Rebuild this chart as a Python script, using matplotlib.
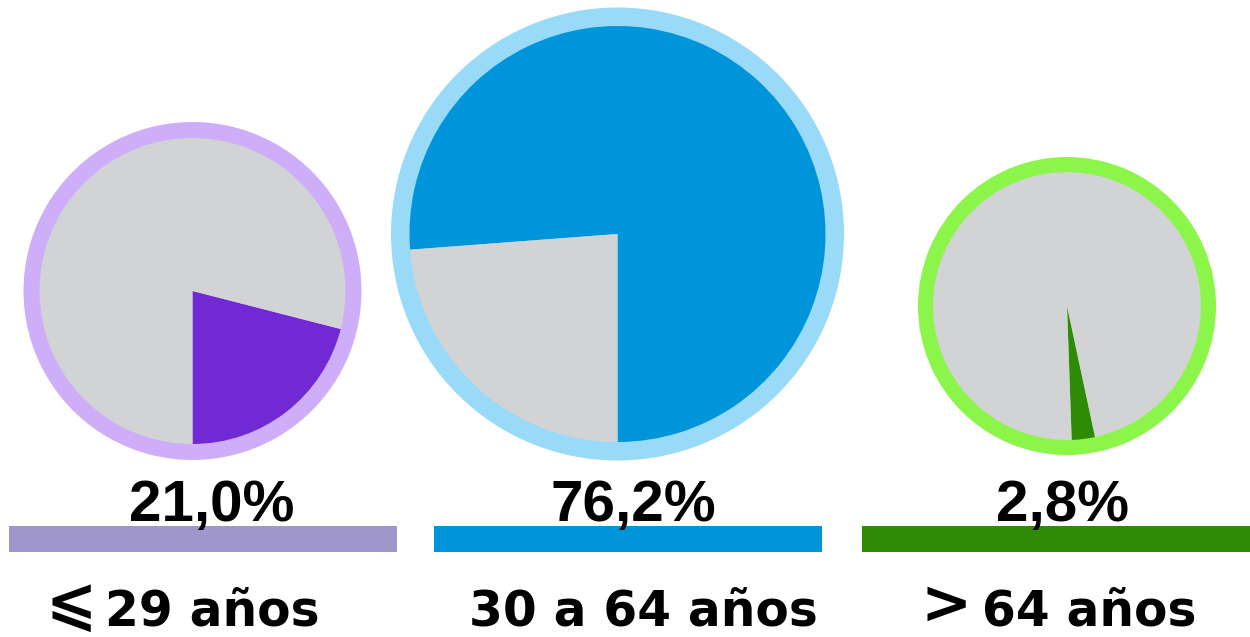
import matplotlib
matplotlib.use("Agg")
import matplotlib.pyplot as plt

# Data
group_symbols = ["⩽", "", ">"]
group_texts = ["29 años", "30 a 64 años", "64 años"]
shares = [21.0, 76.2, 2.8]
pct_labels = ["21,0%", "76,2%", "2,8%"]

# Styling
wedge_colors = ["#7129D4", "#0095DA", "#2F8A08"]
ring_colors = ["#CFAEF9", "#98DAF8", "#8CF54A"]
bar_colors = ["#9F97C9", "#0095DA", "#2F8A08"]
gray = "#D1D3D5"

W, H = 1250, 637
fig = plt.figure(figsize=(W / 100, H / 100), dpi=100)
ax = fig.add_axes([0, 0, 1, 1])

centers = [(192.5, 346), (617.5, 403), (1067, 331)]
r_out = [169, 226.5, 149]
r_in = [153, 208, 134]
starts = [-90, -90, -88]
bar_x = [203, 628, 1056]
pct_x = [212, 633, 1062]
lab_x = [212, 643, 1089]
sym_x = [71, None, 946]

for i in range(3):
    ax.pie([1], colors=[ring_colors[i]], radius=r_out[i], center=centers[i],
           frame=True, wedgeprops=dict(linewidth=0))
    ax.pie([shares[i], 100 - shares[i]], colors=[wedge_colors[i], gray],
           radius=r_in[i], center=centers[i], startangle=starts[i],
           counterclock=True, frame=True, wedgeprops=dict(linewidth=0))

ax.bar(bar_x, [26] * 3, width=388, bottom=85, color=bar_colors, linewidth=0)

for i in range(3):
    ax.text(pct_x[i], 116, pct_labels[i], ha="center", va="baseline",
            fontsize=42, fontweight="bold", family=["Liberation Sans", "DejaVu Sans"],
            color="black", zorder=5)
    ax.text(lab_x[i], 12, group_texts[i], ha="center", va="baseline",
            fontsize=35, fontweight="bold", family=["DejaVu Sans"], color="black")
    if group_symbols[i]:
        ax.text(sym_x[i], 1, group_symbols[i], ha="center", va="bottom",
                fontsize=44, fontweight="bold", family=["DejaVu Sans"], color="black")

ax.set_xlim(0, W)
ax.set_ylim(0, H)
ax.set_aspect("auto")
ax.axis("off")
fig.savefig("out.png", dpi=100, facecolor="white")
